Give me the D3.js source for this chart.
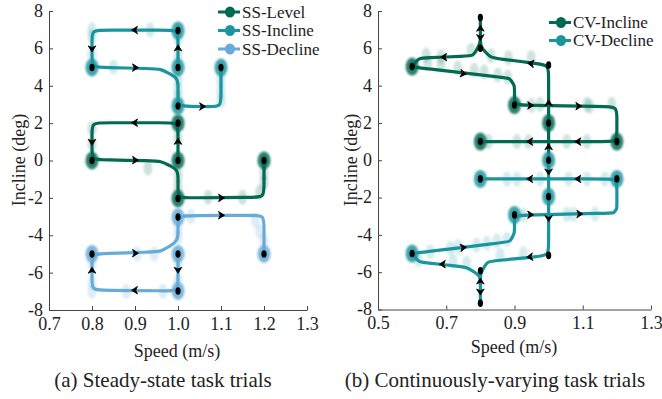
<!DOCTYPE html>
<html>
<head>
<meta charset="utf-8">
<script src="https://cdn.jsdelivr.net/npm/d3@7"></script>
<style>
  body { margin: 0; background: #fff; }
  svg text { font-family: "Liberation Serif", "Times New Roman", serif !important; fill: #222; }
</style>
</head>
<body>
<div id="content"></div>
<script>
// trajectories are [speed, incline]; arrows are [speed, incline, angle in deg (screen, 0 = right)]

// ---- (a) steady-state ----
let ssLevelPath = [[1.0,0],[1.0,2.02],[0.8,2.02],[0.8,0.05],[0.96,-0.03],[1.0,-0.5],[1.0,-2.0],[1.2,-1.97],[1.2,0]];
let ssLevelNodes = [[1.0,2.0],[0.8,0],[1.0,0],[1.0,-2.03],[1.2,0]];
let ssLevelArrows = [[0.9,2.02,180],[0.8,1.0,90],[1.0,1.0,-90],[0.9,0.02,0],[1.1,-2.0,0]];
let ssLevelBlobs = [[0.93,-0.4],[1.07,-1.97],[1.15,-1.97],[0.8,1.7],[0.8,0.9],[1.0,1.2],[1.0,-0.8],[1.0,-1.4],[1.2,-1.2],[1.19,-1.7],[1.2,-0.7]];

let ssInclinePath = [[1.0,5.0],[1.0,6.98],[0.8,6.98],[0.8,5.0],[0.96,4.9],[1.0,4.4],[1.0,2.9],[1.1,2.88],[1.1,5.0]];
let ssInclineNodes = [[1.0,6.95],[0.8,4.98],[1.0,4.98],[1.0,2.92],[1.1,4.97]];
let ssInclineArrows = [[0.9,6.98,180],[0.8,6.0,90],[1.0,6.0,-90],[0.9,4.97,0],[1.056,2.89,0]];
let ssInclineBlobs = [[0.935,7.0],[0.85,5.0],[0.8,7.0],[0.8,6.6],[0.8,5.7],[1.0,6.5],[1.0,5.6],[1.0,4.3],[1.0,3.8],[1.0,3.4],[1.1,3.2],[1.1,3.7],[1.1,4.3]];

let ssDeclinePath = [[1.0,-5.0],[1.0,-6.98],[0.8,-6.94],[0.8,-5.0],[0.96,-4.88],[1.0,-4.3],[1.0,-2.95],[1.2,-2.93],[1.2,-5.0]];
let ssDeclineNodes = [[1.0,-3.03],[1.2,-5.0],[0.8,-5.0],[1.0,-5.0],[1.0,-6.98]];
let ssDeclineArrows = [[0.9,-4.96,0],[1.0,-5.85,90],[0.9,-6.94,180],[0.8,-5.9,-90],[1.1,-2.93,0]];
let ssDeclineBlobs = [[1.03,-3.0],[1.18,-3.2],[1.19,-3.8],[1.2,-4.3],[0.905,-5.0],[0.945,-5.0],[1.0,-3.6],[1.0,-4.1],[1.0,-5.5],[1.0,-6.4],[0.8,-6.5],[0.8,-7.0],[0.88,-7.0],[0.965,-7.0],[0.8,-5.5]];

// ---- (b) continuously-varying ----
let cvInclinePath = [[1.0,0],[1.0,5.1],[0.83,5.5],[0.8,6.1],[0.8,7.65],[0.8,6.3],[0.78,5.6],[0.62,5.47],[0.6,5.0],[0.885,4.4],[0.9,4.0],[0.9,2.96],[1.2,2.87],[1.2,1.0],[0.8,1.0]];
let cvInclineNodes = [[0.6,5.02],[0.9,2.96],[1.0,2.0],[1.2,1.0],[0.8,1.0]];
let cvInclineTurns = [[0.8,7.65],[0.8,6.0],[1.0,5.1]];
let cvInclineArrows = [[1.0,3.05,-90],[1.0,0.7,-90],[0.949,5.18,186],[0.8,7.05,-90],[0.8,6.6,90],[0.694,5.53,180],[0.749,4.65,7],[0.946,2.94,0],[1.087,2.9,0],[1.087,1.0,180],[0.946,1.0,180]];
let cvInclineBands = [[1.0,0.2,5.2],[0.8,5.8,7.9],[0.9,2.9,4.4],[1.2,0.9,2.9],[0.6,4.9,5.6]];
let cvInclineBlobs = [[0.641,5.64],[0.685,5.55],[0.773,5.9],[0.831,5.6],[0.882,5.5],[0.949,5.5],
  [0.646,5.2],[0.685,5.1],[0.734,4.95],[0.782,4.83],[0.811,4.73],[0.851,4.57],[0.88,4.46],
  [0.95,2.95],[0.975,3.0],[1.112,3.0],[1.12,2.9],[1.185,3.0],
  [0.824,1.0],[0.907,1.0],[0.941,1.0],[1.053,1.0],[1.112,1.0]];

let cvDeclinePath = [[1.0,0],[1.0,-5.1],[0.82,-5.43],[0.8,-6.1],[0.8,-7.65],[0.8,-6.2],[0.76,-5.73],[0.62,-5.45],[0.6,-5.0],[0.887,-4.36],[0.9,-3.9],[0.9,-2.95],[1.19,-2.83],[1.2,-2.6],[1.2,-1.0],[0.8,-1.0]];
let cvDeclineNodes = [[1.0,0],[1.0,-1.95],[0.8,-1.0],[1.2,-1.0],[0.9,-2.93],[0.6,-5.0]];
let cvDeclineTurns = [[1.0,-5.1],[0.8,-5.92],[0.8,-7.66]];
let cvDeclineArrows = [[1.0,-0.6,90],[1.0,-3.1,90],[1.087,-1.0,180],[0.946,-1.0,180],[0.946,-2.92,0],[1.09,-2.88,0],[0.749,-4.68,-7],[0.69,-5.57,180],[0.946,-5.18,174],[0.8,-6.5,-90],[0.8,-7.04,90]];
let cvDeclineBands = [[1.0,-0.2,-5.2],[0.8,-5.8,-7.9],[0.9,-2.9,-4.4],[1.2,-0.9,-2.9],[0.6,-4.9,-5.6]];
let cvDeclineBlobs = [[0.878,-1.0],[0.907,-1.0],[0.975,-1.0],[1.058,-1.0],[1.112,-1.0],[1.165,-1.0],
  [0.926,-2.93],[1.053,-2.9],[1.073,-2.9],[1.136,-2.88],
  [0.653,-4.9],[0.712,-4.72],[0.735,-4.63],[0.789,-4.54],[0.819,-4.45],[0.848,-4.32],[0.878,-4.23],
  [0.619,-5.34],[0.72,-5.43],[0.76,-5.52],[0.858,-5.1],[0.926,-5.0]];

let yTicks = [-8,-6,-4,-2,0,2,4,6,8];
let xTicksA = [0.7,0.8,0.9,1.0,1.1,1.2,1.3];
let xTicksB = [0.5,0.7,0.9,1.1,1.3];
let legendA = ["SS-Level","SS-Incline","SS-Decline"];
let legendB = ["CV-Incline","CV-Decline"];

let green = "#006a55", teal = "#1a959e", blue = "#67abd8";
let serif = '"Liberation Serif", "Times New Roman", serif';

let width = 662, height = 399;
let svg = d3.select("#content").append("svg")
  .attr("width", width)
  .attr("height", height);

let defs = svg.append("defs");
defs.append("filter").attr("id", "soft").attr("x", "-50%").attr("y", "-50%").attr("width", "200%").attr("height", "200%")
  .append("feGaussianBlur").attr("stdDeviation", 1.3);

let panelA = {
  x: d3.scaleLinear().domain([0.7, 1.3]).range([49, 307]),
  y: d3.scaleLinear().domain([-8, 8]).range([310, 11]),
  xTicks: xTicksA, fmt: d3.format(".1f")
};
let panelB = {
  x: d3.scaleLinear().domain([0.5, 1.3]).range([378, 651]),
  y: d3.scaleLinear().domain([-8, 8]).range([309.5, 11]),
  xTicks: xTicksB, fmt: d3.format(".1f")
};

function drawAxes(p, labelX, labelY, xLabelBase) {
  let gx = svg.append("g").attr("transform", `translate(0,${p.y.range()[0]})`)
    .call(d3.axisBottom(p.x).tickValues(p.xTicks).tickFormat(p.fmt).tickSizeInner(-4).tickSizeOuter(0).tickPadding(7));
  let gy = svg.append("g").attr("transform", `translate(${p.x.range()[0]},0)`)
    .call(d3.axisLeft(p.y).tickValues(yTicks).tickFormat(d => String(d)).tickSizeInner(-4).tickSizeOuter(0).tickPadding(6));
  for (let g of [gx, gy]) {
    g.attr("font-family", serif).attr("font-size", 18);
    g.selectAll("path.domain").attr("stroke", "#444");
    g.selectAll(".tick line").attr("stroke", "#444");
    g.selectAll("text").attr("fill", "#222");
  }
  gy.selectAll("text").attr("dy", "0.3em");
  svg.append("text").attr("x", labelX).attr("y", xLabelBase).attr("text-anchor", "middle")
    .attr("font-size", 18).text("Speed (m/s)");
  svg.append("text").attr("transform", `translate(${labelY},160) rotate(-90)`).attr("text-anchor", "middle")
    .attr("font-size", 18).text("Incline (deg)");
}

// round the corners of a polyline (pixel space) so curveBasis gives short bends
function roundCorners(pts, r) {
  let out = [pts[0]];
  for (let i = 1; i < pts.length - 1; i++) {
    let [x0, y0] = pts[i-1], [x1, y1] = pts[i], [x2, y2] = pts[i+1];
    let d1 = Math.hypot(x1 - x0, y1 - y0), d2 = Math.hypot(x2 - x1, y2 - y1);
    let ux1 = (x1 - x0) / d1, uy1 = (y1 - y0) / d1;
    let ux2 = (x2 - x1) / d2, uy2 = (y2 - y1) / d2;
    if (ux1 * ux2 + uy1 * uy2 < -0.9) {  // turn-back: keep the tip
      out.push(pts[i], pts[i], pts[i]);
      continue;
    }
    let rr = Math.min(r, d1 / 2, d2 / 2);
    out.push([x1 - ux1 * rr, y1 - uy1 * rr], pts[i], [x1 + ux2 * rr, y1 + uy2 * rr]);
  }
  out.push(pts[pts.length - 1]);
  return out;
}

let line = d3.line().curve(d3.curveBasis);

function drawSeries(p, s) {
  let g = svg.append("g");
  if (s.bands) {
    g.selectAll(".band").data(s.bands).enter().append("line")
      .attr("x1", d => p.x(d[0])).attr("x2", d => p.x(d[0]))
      .attr("y1", d => p.y(d[1])).attr("y2", d => p.y(d[2]))
      .attr("stroke", s.color).attr("stroke-width", 10).attr("stroke-linecap", "round")
      .attr("opacity", 0.45).attr("filter", "url(#soft)");
  }
  g.selectAll(".blob").data(s.blobs).enter().append("ellipse")
    .attr("cx", d => p.x(d[0])).attr("cy", d => p.y(d[1]))
    .attr("rx", 4.5).attr("ry", 7.5)
    .attr("fill", s.color).attr("opacity", s.blobOpacity).attr("filter", "url(#soft)");
  let pts = s.path.map(d => [p.x(d[0]), p.y(d[1])]);
  g.append("path").attr("d", line(roundCorners(pts, 11)))
    .attr("fill", "none").attr("stroke", s.color).attr("stroke-width", 3.2)
    .attr("stroke-linejoin", "round").attr("stroke-linecap", "round");
  g.selectAll(".halo").data(s.nodes).enter().append("ellipse")
    .attr("cx", d => p.x(d[0])).attr("cy", d => p.y(d[1]))
    .attr("rx", 6.5).attr("ry", 9)
    .attr("fill", s.color).attr("opacity", 0.85).attr("filter", "url(#soft)");
  let dots = s.nodes.concat(s.turns || []);
  g.selectAll(".dot").data(dots).enter().append("ellipse")
    .attr("cx", d => p.x(d[0])).attr("cy", d => p.y(d[1]))
    .attr("rx", 2.6).attr("ry", 3.8).attr("fill", "#000");
  g.selectAll(".arrow").data(s.arrows).enter().append("path")
    .attr("d", "M3.5,0 L-2.5,-3.8 L-0.8,0 L-2.5,3.8 Z")
    .attr("transform", d => `translate(${p.x(d[0])},${p.y(d[1])}) rotate(${d[2]})`)
    .attr("fill", "#000").attr("stroke", "#000").attr("stroke-width", 0.8).attr("stroke-linejoin", "round");
}

function drawLegend(names, colors, x0, y0, step) {
  names.forEach(function(name, i) {
    let y = y0 + i * step;
    svg.append("line").attr("x1", x0).attr("x2", x0 + 22).attr("y1", y).attr("y2", y)
      .attr("stroke", colors[i]).attr("stroke-width", 3);
    svg.append("ellipse").attr("cx", x0 + 12).attr("cy", y).attr("rx", 5).attr("ry", 5.5)
      .attr("fill", colors[i]);
    svg.append("text").attr("x", x0 + 24).attr("y", y).attr("dy", "0.33em")
      .attr("font-size", 17).text(name);
  });
}

drawAxes(panelA, 177, 25, 357);
drawAxes(panelB, 514, 357, 353);

drawSeries(panelA, {color: green, path: ssLevelPath, nodes: ssLevelNodes, arrows: ssLevelArrows, blobs: ssLevelBlobs, blobOpacity: 0.2});
drawSeries(panelA, {color: teal, path: ssInclinePath, nodes: ssInclineNodes, arrows: ssInclineArrows, blobs: ssInclineBlobs, blobOpacity: 0.2});
drawSeries(panelA, {color: blue, path: ssDeclinePath, nodes: ssDeclineNodes, arrows: ssDeclineArrows, blobs: ssDeclineBlobs, blobOpacity: 0.22});

drawSeries(panelB, {color: green, path: cvInclinePath, nodes: cvInclineNodes, turns: cvInclineTurns, arrows: cvInclineArrows, bands: cvInclineBands, blobs: cvInclineBlobs, blobOpacity: 0.18});
drawSeries(panelB, {color: teal, path: cvDeclinePath, nodes: cvDeclineNodes, turns: cvDeclineTurns, arrows: cvDeclineArrows, bands: cvDeclineBands, blobs: cvDeclineBlobs, blobOpacity: 0.18});

drawLegend(legendA, [green, teal, blue], 218, 12, 18.5);
drawLegend(legendB, [green, teal], 549, 22.5, 18);

svg.append("text").attr("x", 163).attr("y", 387).attr("text-anchor", "middle")
  .attr("font-size", 21).text("(a) Steady-state task trials");
svg.append("text").attr("x", 495).attr("y", 387).attr("text-anchor", "middle")
  .attr("font-size", 21).text("(b) Continuously-varying task trials");

svg.selectAll("text").style("font-family", serif);
</script>
</body>
</html>
